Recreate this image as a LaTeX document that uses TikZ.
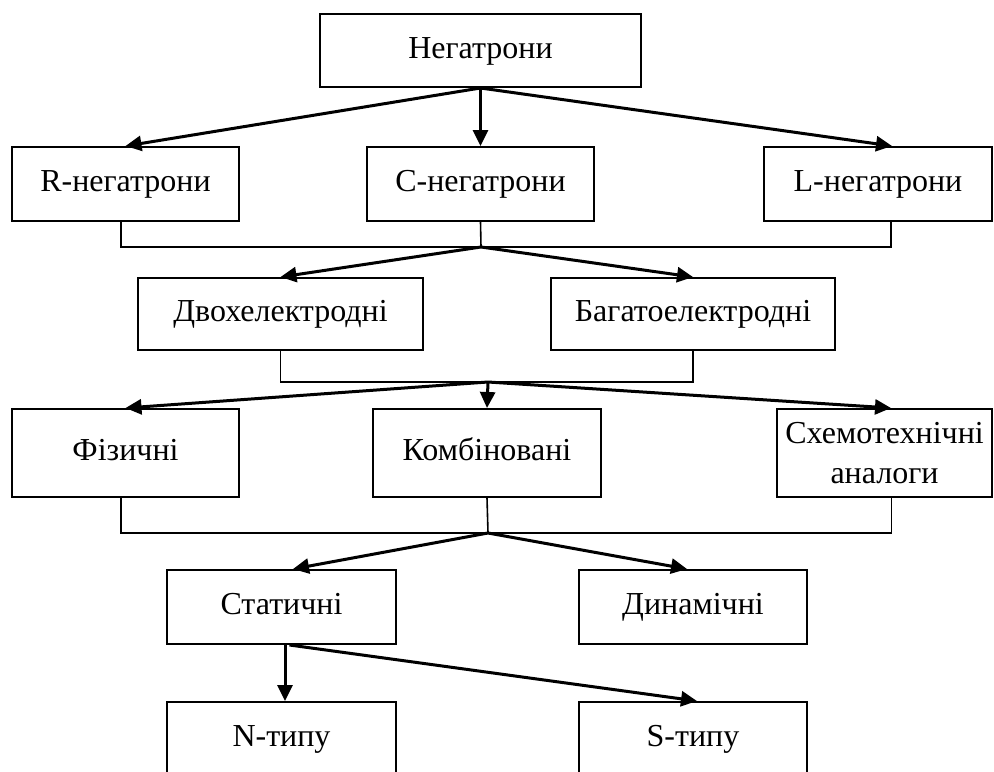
\documentclass[tikz,border=0pt]{standalone}
\usepackage{fontspec}
\setmainfont{Liberation Serif}
\usetikzlibrary{arrows.meta}
\begin{document}
\begin{tikzpicture}[x=0.5pt,y=-0.5pt,
  box/.style={draw,line width=1pt,inner sep=0pt,align=center,
    font=\fontsize{16}{20}\selectfont},
  one/.style={text height=11pt,text depth=3.5pt},
  arr/.style={line width=1.5pt,-{Triangle[length=8pt,width=7.5pt]}},
  link/.style={line width=0.8pt}]
\useasboundingbox (0,0) rectangle (994,771);
\clip (0,0) rectangle (994,771);
% nodes
\node[box,one,minimum width=160.5pt,minimum height=36.5pt] (top) at (480.5,50.5) {Негатрони};
\node[box,one,minimum width=113.5pt,minimum height=37pt] (R) at (125.5,184) {R-негатрони};
\node[box,one,minimum width=113.5pt,minimum height=37pt] (C) at (480.5,184) {С-негатрони};
\node[box,one,minimum width=114pt,minimum height=37pt] (L) at (878,184) {L-негатрони};
\node[box,one,minimum width=142.5pt,minimum height=36pt] (Dvo) at (280.5,314) {Двохелектродні};
\node[box,one,minimum width=142pt,minimum height=36pt] (Bag) at (693,314) {Багатоелектродні};
\node[box,one,minimum width=113.5pt,minimum height=44pt] (Fiz) at (125.5,453) {Фізичні};
\node[box,one,minimum width=114pt,minimum height=44pt] (Kom) at (487,453) {Комбіновані};
\node[box,minimum width=107.5pt,minimum height=44pt] (Sch) at (884.5,453) {Схемотехнічні\\аналоги};
\node[box,one,minimum width=114.5pt,minimum height=37pt] (Stat) at (281.5,607) {Статичні};
\node[box,one,minimum width=114pt,minimum height=37pt] (Dyn) at (693,607) {Динамічні};
\node[box,one,minimum width=114.5pt,minimum height=37pt] (N) at (281.5,739) {N-типу};
\node[box,one,minimum width=114pt,minimum height=37pt] (S) at (693,739) {S-типу};
% junctions
\coordinate (j1) at (481,247);
\coordinate (j2) at (488,382);
\coordinate (j3) at (488,533);
% top level arrows
\draw[arr] (top.south) -- (R.north);
\draw[arr] (top.south) -- (C.north);
\draw[arr] (top.south) -- ([xshift=7pt]L.north);
% bracket 1
\draw[link] ([xshift=-2.25pt]R.south) |- (j1);
\draw[link] (C.south) -- (j1);
\draw[link] ([xshift=6.5pt]L.south) |- (j1);
\draw[arr] (j1) -- (Dvo.north);
\draw[arr] (j1) -- (Bag.north);
% bracket 2
\draw[link] (Dvo.south) |- (j2);
\draw[link] (Bag.south) |- (j2);
\draw[arr] (j2) -- (Fiz.north);
\draw[arr] (j2) -- (Kom.north);
\draw[arr] (j2) -- ([xshift=3.25pt]Sch.north);
% bracket 3
\draw[link] ([xshift=-2.25pt]Fiz.south) |- (j3);
\draw[link] (Kom.south) -- (j3);
\draw[link] ([xshift=3.5pt]Sch.south) |- (j3);
\draw[arr] (j3) -- ([xshift=5.75pt]Stat.north);
\draw[arr] (j3) -- ([xshift=-3pt]Dyn.north);
% static
\draw[arr] ([xshift=1.75pt]Stat.south) -- ([xshift=1.75pt]N.north);
\draw[arr] ([xshift=4pt]Stat.south) -- ([xshift=2pt]S.north);
\end{tikzpicture}
\end{document}
